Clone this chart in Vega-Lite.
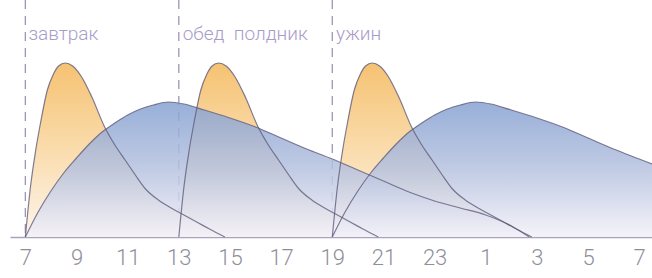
{
  "$schema": "https://vega.github.io/schema/vega-lite/v6.json",
  "width": 642,
  "height": 237,
  "autosize": {"type": "none"},
  "padding": {"left": 10, "top": 0, "right": 0, "bottom": 41},
  "background": "white",
  "config": {"view": {"stroke": null}},
  "datasets": {
    "curves": [
      {"s": "o1", "k": "orange", "t": 0, "v": 0},
      {"s": "o1", "k": "orange", "t": 0.2, "v": 50},
      {"s": "o1", "k": "orange", "t": 0.4, "v": 86},
      {"s": "o1", "k": "orange", "t": 0.6, "v": 115},
      {"s": "o1", "k": "orange", "t": 0.86, "v": 147},
      {"s": "o1", "k": "orange", "t": 1.1, "v": 163},
      {"s": "o1", "k": "orange", "t": 1.3, "v": 171},
      {"s": "o1", "k": "orange", "t": 1.56, "v": 174},
      {"s": "o1", "k": "orange", "t": 1.85, "v": 171},
      {"s": "o1", "k": "orange", "t": 2.2, "v": 160},
      {"s": "o1", "k": "orange", "t": 2.6, "v": 140},
      {"s": "o1", "k": "orange", "t": 3.1, "v": 110},
      {"s": "o1", "k": "orange", "t": 3.5, "v": 92},
      {"s": "o1", "k": "orange", "t": 3.9, "v": 77},
      {"s": "o1", "k": "orange", "t": 4.3, "v": 62},
      {"s": "o1", "k": "orange", "t": 4.7, "v": 48},
      {"s": "o1", "k": "orange", "t": 5.2, "v": 37},
      {"s": "o1", "k": "orange", "t": 5.7, "v": 29},
      {"s": "o1", "k": "orange", "t": 6.2, "v": 22},
      {"s": "o1", "k": "orange", "t": 6.7, "v": 15},
      {"s": "o1", "k": "orange", "t": 7.2, "v": 8},
      {"s": "o1", "k": "orange", "t": 7.8, "v": 0},

      {"s": "o2", "k": "orange", "t": 6, "v": 0},
      {"s": "o2", "k": "orange", "t": 6.2, "v": 50},
      {"s": "o2", "k": "orange", "t": 6.4, "v": 86},
      {"s": "o2", "k": "orange", "t": 6.6, "v": 115},
      {"s": "o2", "k": "orange", "t": 6.86, "v": 147},
      {"s": "o2", "k": "orange", "t": 7.1, "v": 163},
      {"s": "o2", "k": "orange", "t": 7.3, "v": 171},
      {"s": "o2", "k": "orange", "t": 7.56, "v": 174},
      {"s": "o2", "k": "orange", "t": 7.85, "v": 171},
      {"s": "o2", "k": "orange", "t": 8.2, "v": 160},
      {"s": "o2", "k": "orange", "t": 8.6, "v": 140},
      {"s": "o2", "k": "orange", "t": 9.1, "v": 110},
      {"s": "o2", "k": "orange", "t": 9.5, "v": 92},
      {"s": "o2", "k": "orange", "t": 9.9, "v": 77},
      {"s": "o2", "k": "orange", "t": 10.3, "v": 62},
      {"s": "o2", "k": "orange", "t": 10.7, "v": 48},
      {"s": "o2", "k": "orange", "t": 11.2, "v": 37},
      {"s": "o2", "k": "orange", "t": 11.7, "v": 29},
      {"s": "o2", "k": "orange", "t": 12.2, "v": 22},
      {"s": "o2", "k": "orange", "t": 12.7, "v": 15},
      {"s": "o2", "k": "orange", "t": 13.2, "v": 8},
      {"s": "o2", "k": "orange", "t": 13.8, "v": 0},

      {"s": "o3", "k": "orange", "t": 12, "v": 0},
      {"s": "o3", "k": "orange", "t": 12.2, "v": 50},
      {"s": "o3", "k": "orange", "t": 12.4, "v": 86},
      {"s": "o3", "k": "orange", "t": 12.6, "v": 115},
      {"s": "o3", "k": "orange", "t": 12.86, "v": 147},
      {"s": "o3", "k": "orange", "t": 13.1, "v": 163},
      {"s": "o3", "k": "orange", "t": 13.3, "v": 171},
      {"s": "o3", "k": "orange", "t": 13.56, "v": 174},
      {"s": "o3", "k": "orange", "t": 13.85, "v": 171},
      {"s": "o3", "k": "orange", "t": 14.2, "v": 160},
      {"s": "o3", "k": "orange", "t": 14.6, "v": 140},
      {"s": "o3", "k": "orange", "t": 15.1, "v": 110},
      {"s": "o3", "k": "orange", "t": 15.5, "v": 92},
      {"s": "o3", "k": "orange", "t": 15.9, "v": 77},
      {"s": "o3", "k": "orange", "t": 16.3, "v": 62},
      {"s": "o3", "k": "orange", "t": 16.7, "v": 48},
      {"s": "o3", "k": "orange", "t": 17.2, "v": 37},
      {"s": "o3", "k": "orange", "t": 17.7, "v": 29},
      {"s": "o3", "k": "orange", "t": 18.2, "v": 22},
      {"s": "o3", "k": "orange", "t": 18.7, "v": 15},
      {"s": "o3", "k": "orange", "t": 19.2, "v": 8},
      {"s": "o3", "k": "orange", "t": 19.8, "v": 0},

      {"s": "b1", "k": "blue", "t": 0, "v": 0},
      {"s": "b1", "k": "blue", "t": 0.5, "v": 25},
      {"s": "b1", "k": "blue", "t": 1.0, "v": 46},
      {"s": "b1", "k": "blue", "t": 1.5, "v": 64},
      {"s": "b1", "k": "blue", "t": 2.0, "v": 79},
      {"s": "b1", "k": "blue", "t": 2.5, "v": 93},
      {"s": "b1", "k": "blue", "t": 3.0, "v": 105},
      {"s": "b1", "k": "blue", "t": 3.5, "v": 114},
      {"s": "b1", "k": "blue", "t": 4.0, "v": 122},
      {"s": "b1", "k": "blue", "t": 4.5, "v": 128},
      {"s": "b1", "k": "blue", "t": 5.0, "v": 132},
      {"s": "b1", "k": "blue", "t": 5.6, "v": 135},
      {"s": "b1", "k": "blue", "t": 6.2, "v": 133},
      {"s": "b1", "k": "blue", "t": 7.0, "v": 127},
      {"s": "b1", "k": "blue", "t": 8.0, "v": 119},
      {"s": "b1", "k": "blue", "t": 9.0, "v": 110},
      {"s": "b1", "k": "blue", "t": 10.0, "v": 99},
      {"s": "b1", "k": "blue", "t": 11.0, "v": 88},
      {"s": "b1", "k": "blue", "t": 12.0, "v": 78},
      {"s": "b1", "k": "blue", "t": 13.0, "v": 67},
      {"s": "b1", "k": "blue", "t": 14.0, "v": 56},
      {"s": "b1", "k": "blue", "t": 15.0, "v": 45},
      {"s": "b1", "k": "blue", "t": 16.0, "v": 36},
      {"s": "b1", "k": "blue", "t": 17.0, "v": 29},
      {"s": "b1", "k": "blue", "t": 18.0, "v": 22},
      {"s": "b1", "k": "blue", "t": 19.0, "v": 11},
      {"s": "b1", "k": "blue", "t": 19.7, "v": 0},

      {"s": "b2", "k": "blue", "t": 12, "v": 0},
      {"s": "b2", "k": "blue", "t": 12.5, "v": 25},
      {"s": "b2", "k": "blue", "t": 13.0, "v": 46},
      {"s": "b2", "k": "blue", "t": 13.5, "v": 64},
      {"s": "b2", "k": "blue", "t": 14.0, "v": 79},
      {"s": "b2", "k": "blue", "t": 14.5, "v": 93},
      {"s": "b2", "k": "blue", "t": 15.0, "v": 105},
      {"s": "b2", "k": "blue", "t": 15.5, "v": 114},
      {"s": "b2", "k": "blue", "t": 16.0, "v": 122},
      {"s": "b2", "k": "blue", "t": 16.5, "v": 128},
      {"s": "b2", "k": "blue", "t": 17.0, "v": 132},
      {"s": "b2", "k": "blue", "t": 17.6, "v": 135},
      {"s": "b2", "k": "blue", "t": 18.2, "v": 133},
      {"s": "b2", "k": "blue", "t": 19.0, "v": 127},
      {"s": "b2", "k": "blue", "t": 20.0, "v": 119},
      {"s": "b2", "k": "blue", "t": 21.0, "v": 110},
      {"s": "b2", "k": "blue", "t": 22.0, "v": 99},
      {"s": "b2", "k": "blue", "t": 23.0, "v": 88},
      {"s": "b2", "k": "blue", "t": 24.0, "v": 78},
      {"s": "b2", "k": "blue", "t": 24.5, "v": 73}
    ],
    "meals": [
      {"t": 0, "label": "завтрак", "lt": 0.12, "lv": 197},
      {"t": 6, "label": "обед\u00a0\u00a0полдник", "lt": 6.15, "lv": 197},
      {"t": 12, "label": "ужин", "lt": 12.15, "lv": 197}
    ]
  },
  "layer": [
    {
      "data": {"name": "meals"},
      "mark": {"type": "rule", "stroke": "#9d95ba", "strokeWidth": 1.3, "strokeDash": [9, 7]},
      "encoding": {
        "x": {"field": "t", "type": "quantitative", "scale": {"domain": [-0.6, 24.5], "nice": false, "zero": false}, "axis": {
          "values": [0, 2, 4, 6, 8, 10, 12, 14, 16, 18, 20, 22, 24],
          "labelExpr": "(datum.value + 7) % 24",
          "title": null, "grid": false, "ticks": false,
          "domainColor": "#a9a3c0", "domainWidth": 1.5,
          "labelFont": "Roboto", "labelFontWeight": 300, "labelFontSize": 22, "labelColor": "#8f8f99",
          "labelPadding": 10, "labelFlush": false, "labelOverlap": false
        }}
      }
    },
    {
      "data": {"name": "curves"},
      "transform": [{"filter": "datum.k === 'orange'"}],
      "mark": {"type": "area", "interpolate": "monotone", "fill": {"gradient": "linear", "x1": 0, "y1": 0, "x2": 0, "y2": 1, "stops": [{"offset": 0, "color": "#f5c272"}, {"offset": 0.5, "color": "#fadcad"}, {"offset": 1, "color": "#fdf5ec"}]}},
      "encoding": {
        "x": {"field": "t", "type": "quantitative"},
        "y": {"field": "v", "type": "quantitative", "stack": null, "scale": {"domain": [0, 237], "nice": false}, "axis": null},
        "detail": {"field": "s"}
      }
    },
    {
      "data": {"name": "curves"},
      "transform": [{"filter": "datum.k === 'blue'"}],
      "mark": {"type": "area", "interpolate": "monotone", "opacity": 0.85, "fill": {"gradient": "linear", "x1": 0, "y1": 0, "x2": 0, "y2": 1, "stops": [{"offset": 0, "color": "#85a1d2"}, {"offset": 0.5, "color": "#b6c2df"}, {"offset": 1, "color": "#f3f1f8"}]}},
      "encoding": {
        "x": {"field": "t", "type": "quantitative"},
        "y": {"field": "v", "type": "quantitative", "stack": null},
        "detail": {"field": "s"}
      }
    },
    {
      "data": {"name": "curves"},
      "mark": {"type": "line", "interpolate": "monotone", "stroke": "#615c7c", "strokeWidth": 1.2, "strokeOpacity": 0.8},
      "encoding": {
        "x": {"field": "t", "type": "quantitative"},
        "y": {"field": "v", "type": "quantitative"},
        "detail": {"field": "s"}
      }
    },
    {
      "data": {"name": "meals"},
      "mark": {"type": "text", "align": "left", "baseline": "alphabetic", "font": "Roboto", "fontWeight": 300, "fontSize": 19, "fill": "#a99dc8"},
      "encoding": {
        "x": {"field": "lt", "type": "quantitative"},
        "y": {"field": "lv", "type": "quantitative"},
        "text": {"field": "label"}
      }
    }
  ]
}
